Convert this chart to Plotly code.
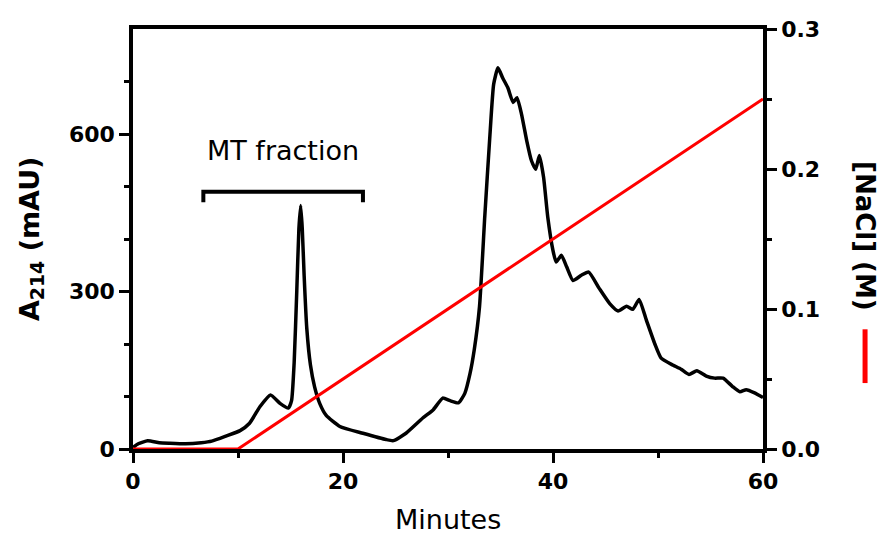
import plotly.graph_objects as go

# Chromatogram (A214, mAU) vs time (minutes)
time_min = [0, 0.5, 1.4, 2.5, 3.5, 5, 6.5, 7.5, 8.9, 10.2, 11.1, 12.1, 13.1, 14.0, 14.8,
            15.1, 15.35, 15.6, 15.8, 15.97, 16.12, 16.3, 16.55, 16.9, 17.3, 17.8, 18.4,
            19.7, 21.9, 24.1,
            24.8, 26.0, 27.6, 28.6, 29.5, 30.2, 31.0, 31.6, 32.1, 32.5, 33.0, 33.5, 34.0,
            34.35, 34.76, 35.2, 35.7, 36.2, 36.57, 37.0, 37.5, 37.95, 38.35, 38.7, 39.1,
            39.5, 40.0, 40.3, 40.8, 41.3, 41.9, 42.7, 43.4, 44.4, 45.4, 46.2, 47.0, 47.6,
            48.2, 48.9, 49.7, 50.3, 51.4, 52.2, 52.95, 53.7, 54.6, 55.4, 56.2, 57.1, 57.8,
            58.4, 59.2, 60.0]
a214 = [3, 10, 15.7, 12, 11, 10, 12, 15, 25, 35, 49, 81, 103, 87, 78,
        92, 165, 302, 420, 464, 420, 330, 230, 160, 118, 86, 64,
        43, 30, 18,
        16, 30, 59, 75, 97, 92, 88, 106, 144, 189, 271, 442, 600,
        695, 726, 707, 688, 660, 669, 638, 587, 549, 533, 559, 518,
        442, 378, 356, 369, 347, 321, 331, 337, 306, 277, 263, 272, 266,
        285, 245, 200, 173, 160, 152, 142, 149, 139, 135, 135, 119, 109,
        113, 107, 98]

# NaCl gradient (M)
nacl_time = [0, 10, 60]
nacl_conc = [0.0, 0.0, 0.25]

# MT fraction bracket
bracket_x = [6.7, 6.7, 21.9, 21.9]
bracket_y = [470, 490, 490, 470]
bracket_label = "MT fraction"

x_ticks = [0, 20, 40, 60]
x_minor = [10, 30, 50]
y_ticks = [0, 300, 600]
y_minor = [100, 200, 400, 500, 700]
y2_ticks = [0.0, 0.1, 0.2, 0.3]
y2_minor = [0.05, 0.15, 0.25]

FONT = "DejaVu Sans"

fig = go.Figure()
fig.add_trace(go.Scatter(x=time_min, y=a214, mode="lines",
                         line=dict(color="black", width=3.5, shape="spline", smoothing=0.5),
                         showlegend=False))
fig.add_trace(go.Scatter(x=nacl_time, y=nacl_conc, mode="lines", yaxis="y2",
                         line=dict(color="#ff0000", width=3), showlegend=False))
fig.add_trace(go.Scatter(x=bracket_x, y=bracket_y, mode="lines",
                         line=dict(color="black", width=4), showlegend=False))

fig.add_annotation(x=(bracket_x[0] + bracket_x[-1]) / 2, y=568, text=bracket_label,
                   showarrow=False, font=dict(family=FONT, size=27, color="black"))

# axis titles
fig.add_annotation(xref="paper", yref="paper", x=0.5, y=-0.169, xanchor="center",
                   yanchor="middle", text="Minutes", showarrow=False,
                   font=dict(family=FONT, size=27, color="black"))
fig.add_annotation(xref="paper", yref="paper", x=-0.162, y=0.502, xanchor="center",
                   yanchor="middle", textangle=-90,
                   text="<b>A<sub>214</sub> (mAU)</b>", showarrow=False,
                   font=dict(family=FONT, size=27, color="black"))
fig.add_annotation(xref="paper", yref="paper", x=1.162, y=0.507, xanchor="center",
                   yanchor="middle", textangle=90,
                   text="<b>[NaCl] (M)</b>", showarrow=False,
                   font=dict(family=FONT, size=26, color="black"))
fig.add_shape(type="line", xref="paper", yref="paper", x0=1.162, x1=1.162,
              y0=0.157, y1=0.285, line=dict(color="#ff0000", width=5))

axis_common = dict(showline=True, linecolor="black", linewidth=3.5, ticks="outside",
                   ticklen=10, tickwidth=3, tickcolor="black", showgrid=False,
                   zeroline=False,
                   tickfont=dict(family=FONT, size=22, color="black", weight="bold"))

fig.update_layout(
    width=886, height=542,
    margin=dict(l=133, r=123, t=29, b=93),
    plot_bgcolor="white", paper_bgcolor="white",
    xaxis=dict(range=[0, 60], tickvals=x_ticks, mirror=True,
               minor=dict(tickvals=x_minor, ticks="outside", ticklen=5, tickwidth=3,
                          tickcolor="black"),
               **axis_common),
    yaxis=dict(range=[0, 800], tickvals=y_ticks,
               minor=dict(tickvals=y_minor, ticks="outside", ticklen=5, tickwidth=3,
                          tickcolor="black"),
               **axis_common),
    yaxis2=dict(range=[0, 0.3], overlaying="y", side="right", tickvals=y2_ticks,
                ticktext=["0.0", "0.1", "0.2", "0.3"],
                minor=dict(tickvals=y2_minor, ticks="outside", ticklen=5, tickwidth=3,
                           tickcolor="black"),
                **axis_common),
)

fig.write_html("out.html")
